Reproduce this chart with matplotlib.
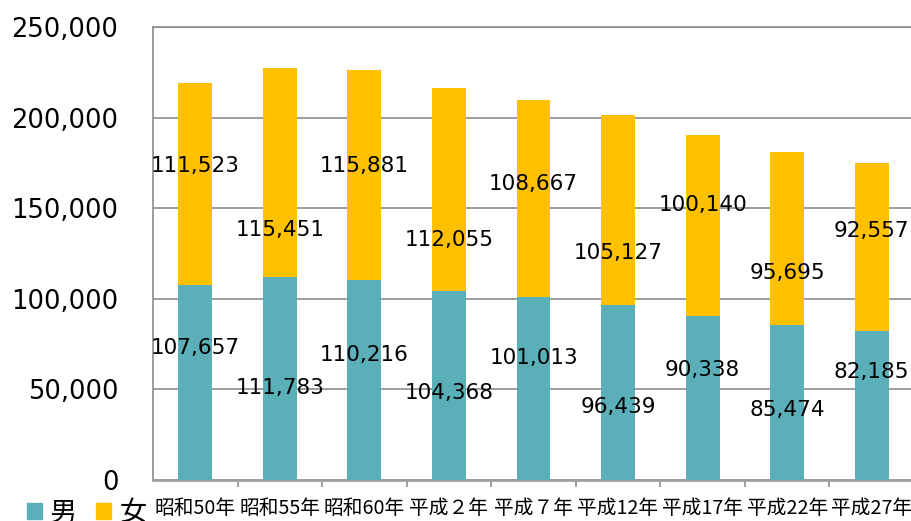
import matplotlib
matplotlib.use("Agg")
import matplotlib.pyplot as plt
from matplotlib.patches import Patch
import numpy as np

plt.rcParams['font.family'] = ['Noto Sans CJK JP', 'DejaVu Sans']

categories = ["昭和50年", "昭和55年", "昭和60年", "平成２年", "平成７年",
              "平成12年", "平成17年", "平成22年", "平成27年"]
male = [107657, 111783, 110216, 104368, 101013, 96439, 90338, 85474, 82185]
female = [111523, 115451, 115881, 112055, 108667, 105127, 100140, 95695, 92557]
yticks = [0, 50000, 100000, 150000, 200000, 250000]

# label placement (layout only, in data units)
male_label_y = [73000, 50800, 69000, 48000, 67300, 40300, 60700, 38600, 59600]
female_label_y = [173300, 138000, 173300, 132400, 163400, 125300, 151800, 114200, 137400]

teal = "#5AAFB9"
gold = "#FFC000"
grid = "#8C8C8C"

fig = plt.figure(figsize=(9.11, 5.21), dpi=100)
ax = fig.add_axes([153/911, 41/521, 761/911, 453/521])

x = np.arange(len(categories))
w = 0.40
ax.bar(x, male, width=w, color=teal, zorder=3)
ax.bar(x, female, width=w, bottom=male, color=gold, zorder=3)

ax.set_xlim(-0.5, len(categories) - 0.5)
ax.set_ylim(0, 250000)
ax.set_yticks(yticks)
ax.set_yticklabels([f"{v:,}" for v in yticks], fontsize=18.5, family='DejaVu Sans')
ax.tick_params(axis='y', length=0, pad=25)
ax.yaxis.grid(True, color=grid, linewidth=1.2, zorder=0)

ax.set_xticks(x)
ax.set_xticklabels(categories, fontsize=14.2)
ax.tick_params(axis='x', length=0, pad=13)
ax.set_xticks(np.arange(0.5, len(categories) - 0.5, 1.0), minor=True)
ax.tick_params(axis='x', which='minor', length=5, color=grid, width=1.2)

for s in ['left', 'top', 'right', 'bottom']:
    ax.spines[s].set_color(grid)
    ax.spines[s].set_linewidth(1.2)
ax.spines['bottom'].set_linewidth(2)
ax.spines['bottom'].set_color("#A0A0A0")

for i in range(len(categories)):
    ax.text(x[i], male_label_y[i], f"{male[i]:,}", ha='center', va='center',
            fontsize=15.5, family='DejaVu Sans', zorder=5)
    ax.text(x[i], female_label_y[i], f"{female[i]:,}", ha='center', va='center',
            fontsize=15.5, family='DejaVu Sans', zorder=5)

handles = [Patch(color=teal, label="男"), Patch(color=gold, label="女")]
fig.legend(handles=handles, loc='lower left', bbox_to_anchor=(0.003, -0.058),
           ncol=2, frameon=False, fontsize=19.5, handlelength=0.55, handleheight=0.55,
           handletextpad=0.3, columnspacing=0.7)

fig.savefig("out.png", dpi=100)
